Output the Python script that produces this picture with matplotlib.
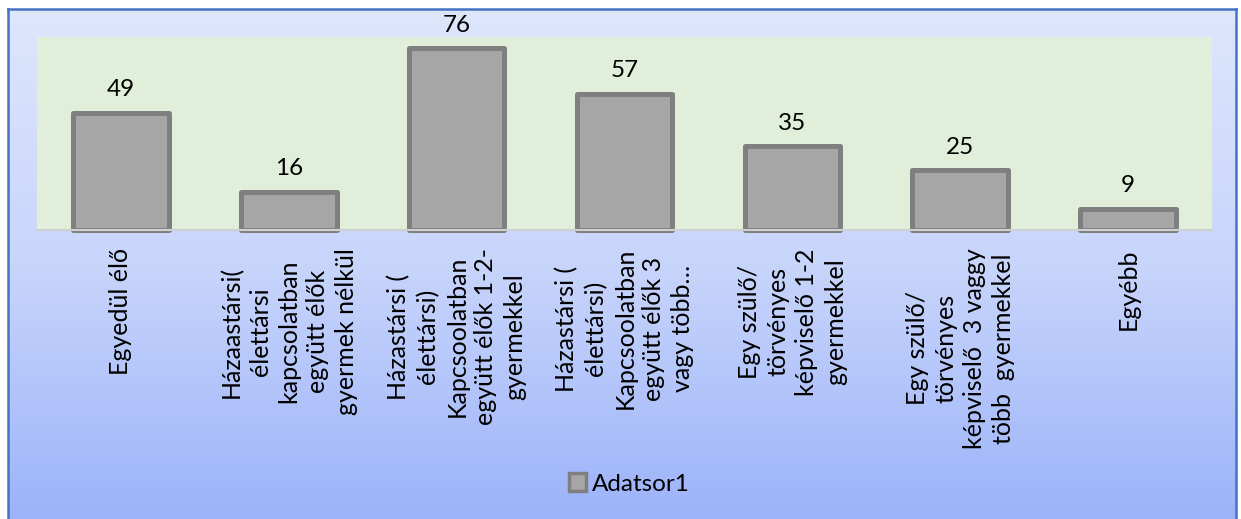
import matplotlib
matplotlib.use("Agg")
import matplotlib.pyplot as plt
import numpy as np
from matplotlib.patches import Patch
from matplotlib.colors import LinearSegmentedColormap

categories = [
    "Egyedül élő",
    "Házaastársi(\nélettársi\nkapcsolatban\negyütt élők\ngyermek nélkül",
    "Házastársi (\nélettársi)\nKapcsoolatban\negyütt élők 1-2-\ngyermekkel",
    "Házastársi (\nélettársi)\nKapcsoolatban\negyütt élők 3\nvagy több…",
    "Egy szülő/\ntörvényes\nképviselő 1-2\ngyermekkel",
    "Egy szülő/\ntörvényes\nképviselő  3 vaggy\ntöbb  gyermekkel",
    "Egyébb",
]
values = [49, 16, 76, 57, 35, 25, 9]
series_name = "Adatsor1"

FONT = ["Lato", "DejaVu Sans"]
plt.rcParams["font.family"] = FONT

W, H = 1241, 519
fig = plt.figure(figsize=(W / 100, H / 100), dpi=100, facecolor="white")

# Chart area background with gradient and blue border (open at the bottom)
bg = fig.add_axes([8 / W, 0, 1228 / W, 1 - 9 / H])
grad = np.linspace(0, 1, 256).reshape(-1, 1)
cmap = LinearSegmentedColormap.from_list("g", ["#9CB3F9", "#C8D5FB", "#DEE6FC"])
bg.imshow(grad, aspect="auto", cmap=cmap, origin="lower", extent=[0, 1, 0, 1],
          interpolation="bilinear")
bg.set_xlim(0, 1); bg.set_ylim(0, 1)
bg.set_xticks([]); bg.set_yticks([])
for s in bg.spines.values():
    s.set_color("#4472C4"); s.set_linewidth(1.8)
bg.spines["bottom"].set_visible(False)
bg.set_zorder(0)

# Plot area
ax = fig.add_axes([37 / W, 1 - 230 / H, (1212 - 37) / W, (230 - 37) / H])
ax.set_zorder(1)
ax.set_facecolor("#E1EED9")
x = np.arange(len(categories))
bars = ax.bar(x, values, width=0.57, color="#A6A6A6", edgecolor="#7F7F7F",
              linewidth=3.6, joinstyle="round", zorder=3, clip_on=False)
ax.set_xlim(-0.5, len(categories) - 0.5)
ax.set_ylim(0, 80.8)
for s in ["top", "right", "left"]:
    ax.spines[s].set_visible(False)
ax.spines["bottom"].set_color("#D0D0D0")
ax.spines["bottom"].set_linewidth(1.5)
ax.spines["bottom"].set_zorder(4)
ax.set_yticks([])
ax.set_xticks(x)
ax.set_xticklabels(categories, rotation=90, fontsize=18, ha="center", va="top",
                   multialignment="center", linespacing=1.3)
ax.tick_params(axis="x", length=0, pad=13)

for b, v in zip(bars, values):
    ax.annotate(str(v), (b.get_x() + b.get_width() / 2, v), xytext=(0, 9),
                textcoords="offset points", ha="center", va="bottom",
                fontsize=17.5, color="black", annotation_clip=False)

handle = Patch(facecolor="#A6A6A6", edgecolor="#7F7F7F", linewidth=2.5, joinstyle="round")
fig.legend([handle], [series_name], loc="center", bbox_to_anchor=(629 / W, 1 - 484 / H),
           frameon=False, fontsize=17.5, handlelength=0.7, handleheight=0.7,
           handletextpad=0.25, borderpad=0)

fig.savefig("out.png", dpi=100, facecolor="white")
